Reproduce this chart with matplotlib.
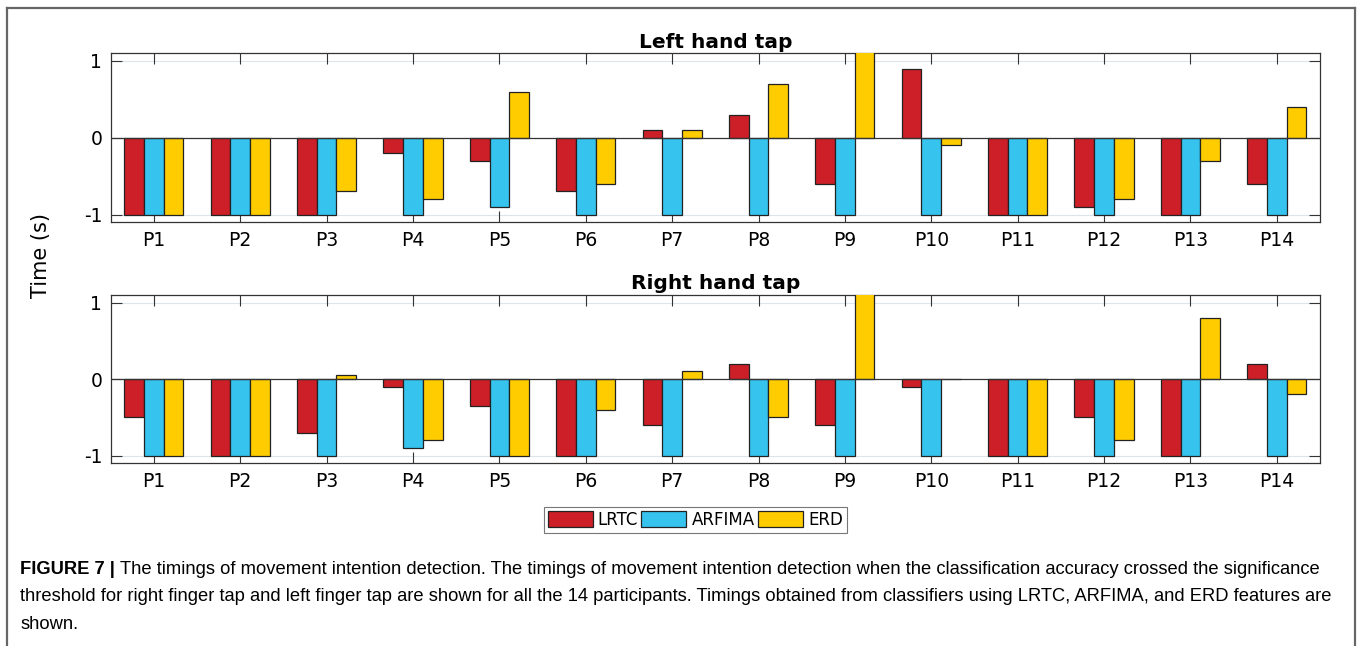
import numpy as np
import matplotlib
matplotlib.use('Agg')
import matplotlib.pyplot as plt
from matplotlib.lines import Line2D

# participants and timings (s)
participants = ['P%d' % i for i in range(1, 15)]
series = ['LRTC', 'ARFIMA', 'ERD']
colors = ['#CC1F27', '#36C3EE', '#FFCC00']

left_lrtc = [-1, -1, -1, -0.2, -0.3, -0.7, 0.1, 0.3, -0.6, 0.9, -1, -0.9, -1, -0.6]
left_arfima = [-1, -1, -1, -1, -0.9, -1, -1, -1, -1, -1, -1, -1, -1, -1]
left_erd = [-1, -1, -0.7, -0.8, 0.6, -0.6, 0.1, 0.7, 1.5, -0.1, -1, -0.8, -0.3, 0.4]

right_lrtc = [-0.5, -1, -0.7, -0.1, -0.35, -1, -0.6, 0.2, -0.6, -0.1, -1, -0.5, -1, 0.2]
right_arfima = [-1, -1, -1, -0.9, -1, -1, -1, -1, -1, -1, -1, -1, -1, -1]
right_erd = [-1, -1, 0.05, -0.8, -1, -0.4, 0.1, -0.5, 1.5, 0.0, -1, -0.8, 0.8, -0.2]

panels = [('Left hand tap', [left_lrtc, left_arfima, left_erd]),
          ('Right hand tap', [right_lrtc, right_arfima, right_erd])]

plt.rcParams['font.family'] = 'DejaVu Sans'
fig = plt.figure(figsize=(13.58, 6.46), dpi=100)

x = np.arange(1, 15)
w = 0.228
axes_pos = [[0.0815, 0.656, 0.8905, 0.2616],
            [0.0815, 0.283, 0.8905, 0.2603]]

for pos, (title, vals) in zip(axes_pos, panels):
    ax = fig.add_axes(pos)
    for k in range(3):
        ax.bar(x + (k - 1) * w, vals[k], width=w, color=colors[k],
               edgecolor='#222222', linewidth=0.9, label=series[k], zorder=3)
    ax.axhline(0, color='#333333', linewidth=0.9, zorder=4)
    for yy in (1, -1):
        ax.axhline(yy, color='#dbe6ec', linewidth=0.8, zorder=1)
    ax.set_xlim(0.5, 14.5)
    ax.set_ylim(-1.1, 1.1)
    ax.set_xticks(x)
    ax.set_xticklabels(participants)
    ax.set_yticks([-1, 0, 1])
    ax.set_yticklabels(['-1', '0', '1'])
    ax.tick_params(direction='in', length=8, width=0.8, color='#333333',
                   top=True, right=True, labelsize=13.5, pad=6)
    for s in ax.spines.values():
        s.set_color('#333333')
        s.set_linewidth(0.9)
    ax.set_title(title, fontsize=14.5, fontweight='bold', pad=4)

fig.text(0.03, 0.605, 'Time (s)', rotation=90, ha='center', va='center', fontsize=15)

handles, labels = ax.get_legend_handles_labels()
leg = fig.legend(handles, labels, loc='center', bbox_to_anchor=(0.512, 0.195),
                 ncol=3, fontsize=12, frameon=True, fancybox=False,
                 handlelength=2.7, handleheight=1.1, handletextpad=0.3,
                 columnspacing=0.2, borderpad=0.25, borderaxespad=0)
leg.get_frame().set_edgecolor('#555555')
leg.get_frame().set_linewidth(0.8)

# outer frame
fig.add_artist(Line2D([0.0055, 0.0055], [-0.1, 0.9876], transform=fig.transFigure,
                      color='#666666', linewidth=1.6))
fig.add_artist(Line2D([0.0055, 0.9975], [0.9876, 0.9876], transform=fig.transFigure,
                      color='#666666', linewidth=1.6))
fig.add_artist(Line2D([0.9975, 0.9975], [-0.1, 0.9876], transform=fig.transFigure,
                      color='#666666', linewidth=1.6))

# caption
cap_font = ['Liberation Sans', 'DejaVu Sans']
cap_size = 13.2
bold = fig.text(0.015, 0.119, 'FIGURE 7 | ', fontsize=cap_size, fontweight='bold',
                family=cap_font, va='center')
renderer = fig.canvas.get_renderer()
bb = bold.get_window_extent(renderer=renderer)
x0 = bb.x1 / fig.bbox.width
fig.text(x0, 0.119, 'The timings of movement intention detection. The timings of movement '
         'intention detection when the classification accuracy crossed the significance',
         fontsize=cap_size, family=cap_font, va='center')
fig.text(0.015, 0.076, 'threshold for right finger tap and left finger tap are shown for all '
         'the 14 participants. Timings obtained from classifiers using LRTC, ARFIMA, and ERD '
         'features are', fontsize=cap_size, family=cap_font, va='center')
fig.text(0.015, 0.033, 'shown.', fontsize=cap_size, family=cap_font, va='center')

fig.savefig('out.png', dpi=100)
